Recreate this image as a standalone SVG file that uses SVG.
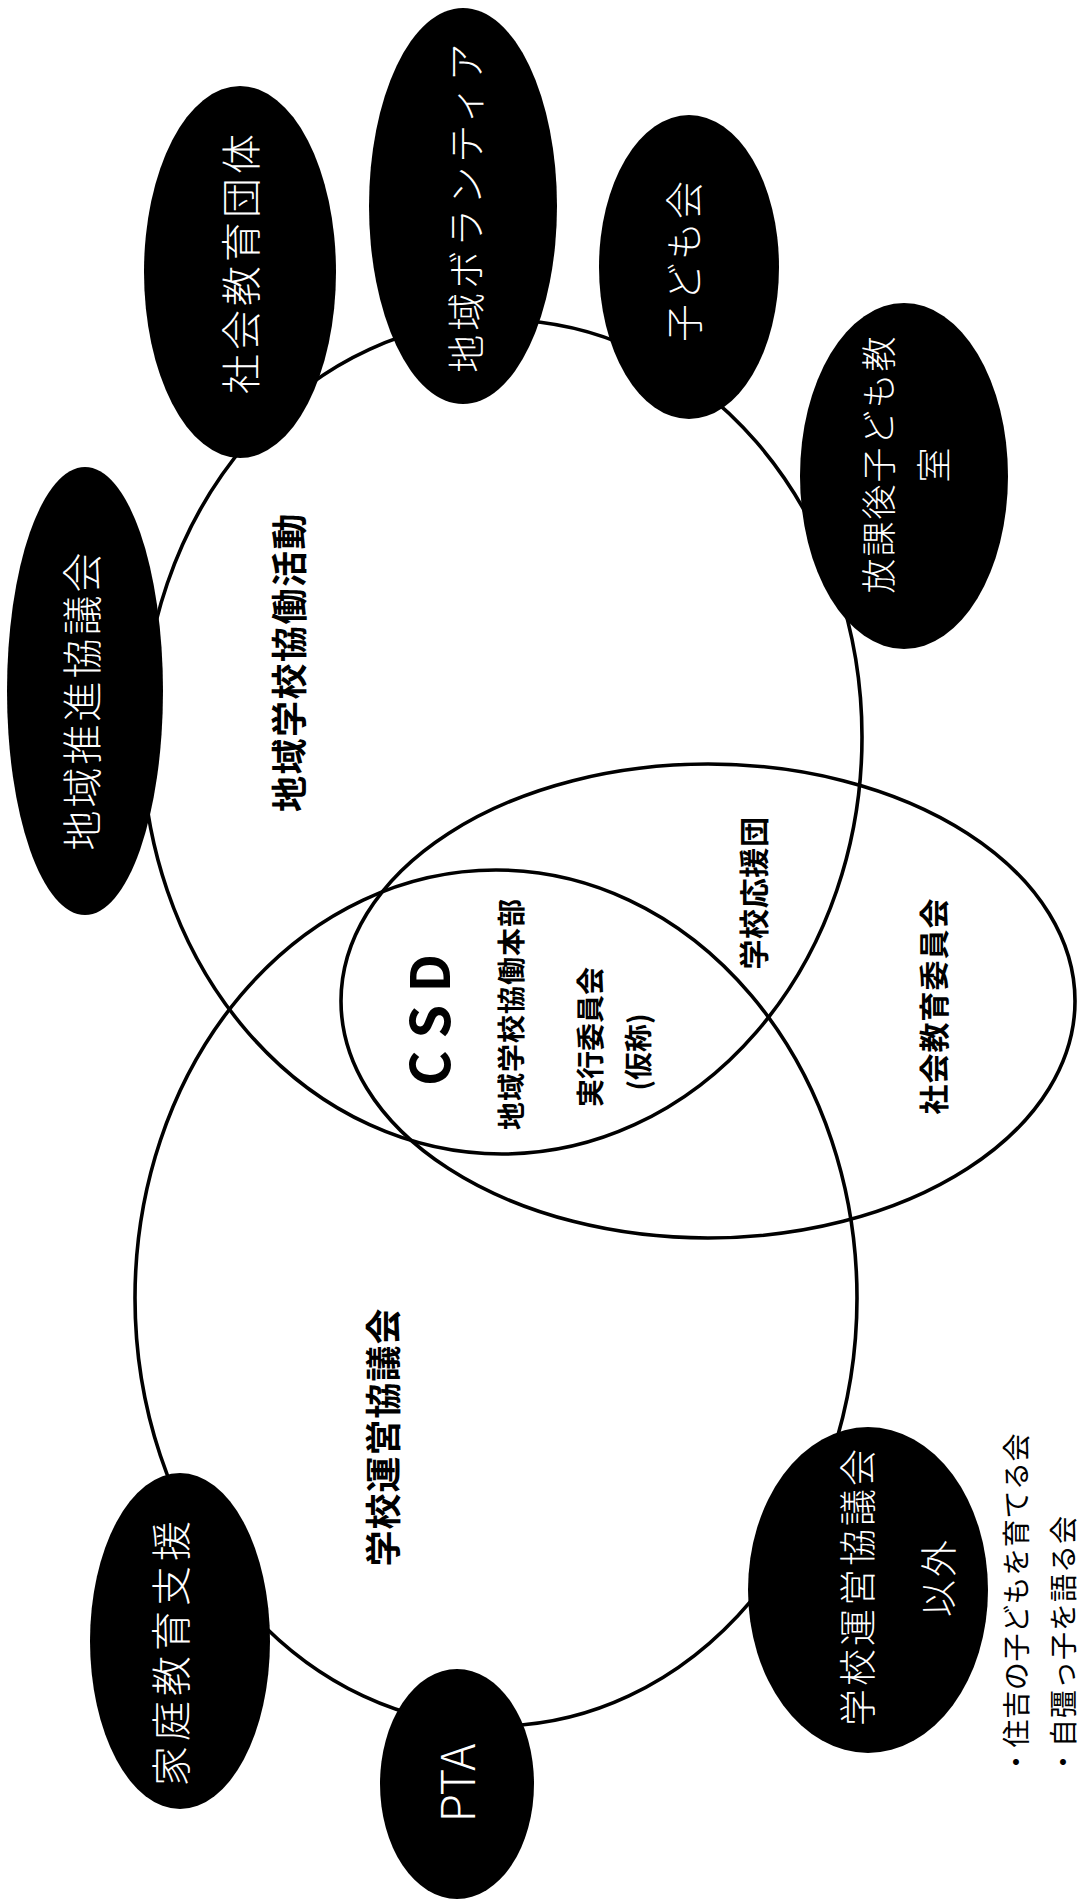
<svg xmlns="http://www.w3.org/2000/svg" width="1080" height="1899" viewBox="0 0 1080 1899">
<style>
.ring{fill:none;stroke:#000;stroke-width:3.6}
.blob{fill:#000}
.wt{fill:#fff;font-family:"Noto Sans CJK JP","Noto Sans CJK SC",sans-serif;font-weight:300;text-anchor:middle;dominant-baseline:central}
.bt{fill:#000;font-family:"Noto Sans CJK JP","Noto Sans CJK SC",sans-serif;font-weight:700;text-anchor:middle;dominant-baseline:central}
.nt{fill:#000;font-family:"Noto Sans CJK JP","Noto Sans CJK SC",sans-serif;font-weight:400;dominant-baseline:central}
</style>
<rect width="1080" height="1899" fill="#fff"/>
<g id="regions">
  <g id="region-chiiki-kyodo"><ellipse class="ring" cx="502" cy="737" rx="360" ry="417"/>
    <text class="bt" font-size="36" letter-spacing="1.5" transform="translate(287,662) rotate(-90)">地域学校協働活動</text></g>
  <g id="region-gakko-uneikyogikai"><ellipse class="ring" cx="496" cy="1298" rx="361" ry="428"/>
    <text class="bt" font-size="36" letter-spacing="1" transform="translate(381,1437) rotate(-90)">学校運営協議会</text></g>
  <g id="region-shakai-kyoiku-iinkai"><ellipse class="ring" cx="708" cy="1001" rx="367" ry="237"/>
    <text class="bt" font-size="30" letter-spacing="1" transform="translate(932,1006) rotate(-90)">社会教育委員会</text></g>
  <g id="region-gakko-oendan">
    <text class="bt" font-size="30" letter-spacing="0.6" transform="translate(752,893) rotate(-90)">学校応援団</text></g>
  <g id="region-csd">
    <text class="bt" font-size="54" font-family="Liberation Sans,Arial,sans-serif" transform="translate(426,1020) rotate(-90)">C S D</text>
    <text class="bt" font-size="28" letter-spacing="1" transform="translate(510,1014) rotate(-90)">地域学校協働本部</text>
    <text class="bt" font-size="28" transform="translate(589,1037) rotate(-90)">実行委員会</text>
    <text class="bt" font-size="28" transform="translate(637,1052) rotate(-90)">(仮称)</text>
  </g>
</g>
<g id="nodes">
  <g id="n-chiiki-suishin"><ellipse class="blob" cx="85" cy="691" rx="78" ry="224"/>
    <text class="wt" font-size="40" letter-spacing="3" transform="translate(80,700) rotate(-90)">地域推進協議会</text></g>
  <g id="n-shakai-kyoiku-dantai"><ellipse class="blob" cx="240" cy="272" rx="96" ry="186"/>
    <text class="wt" font-size="40" letter-spacing="4" transform="translate(239,262) rotate(-90)">社会教育団体</text></g>
  <g id="n-volunteer"><ellipse class="blob" cx="463" cy="206" rx="94" ry="198"/>
    <text class="wt" font-size="38" letter-spacing="4" transform="translate(463,206) rotate(-90)">地域ボランティア</text></g>
  <g id="n-kodomokai"><ellipse class="blob" cx="689" cy="267" rx="90" ry="152"/>
    <text class="wt" font-size="38" letter-spacing="3" transform="translate(681,260) rotate(-90)">子ども会</text></g>
  <g id="n-houkago"><ellipse class="blob" cx="904" cy="476" rx="104" ry="173"/>
    <text class="wt" font-size="35" letter-spacing="2" transform="translate(876,464) rotate(-90)">放課後子ども教</text>
    <text class="wt" font-size="35" transform="translate(931,465) rotate(-90)">室</text></g>
  <g id="n-katei-kyoiku"><ellipse class="blob" cx="180" cy="1641" rx="90" ry="168"/>
    <text class="wt" font-size="40" letter-spacing="5" transform="translate(169,1651) rotate(-90)">家庭教育支援</text></g>
  <g id="n-pta"><ellipse class="blob" cx="457" cy="1784" rx="77" ry="115"/>
    <text class="wt" font-size="46" font-family="Liberation Sans,Arial,sans-serif" transform="translate(455,1783) rotate(-90)">PTA</text></g>
  <g id="n-igai"><ellipse class="blob" cx="868" cy="1590" rx="120" ry="163"/>
    <text class="wt" font-size="37" letter-spacing="3" transform="translate(856,1586) rotate(-90)">学校運営協議会</text>
    <text class="wt" font-size="37" letter-spacing="3" transform="translate(937,1577) rotate(-90)">以外</text></g>
</g>
<g id="notes">
  <text class="nt" font-size="28" letter-spacing="0.6" transform="translate(1015,1776) rotate(-90)">・住吉の子どもを育てる会</text>
  <text class="nt" font-size="28" letter-spacing="1" transform="translate(1062,1776) rotate(-90)">・自彊っ子を語る会</text>
</g>
</svg>
